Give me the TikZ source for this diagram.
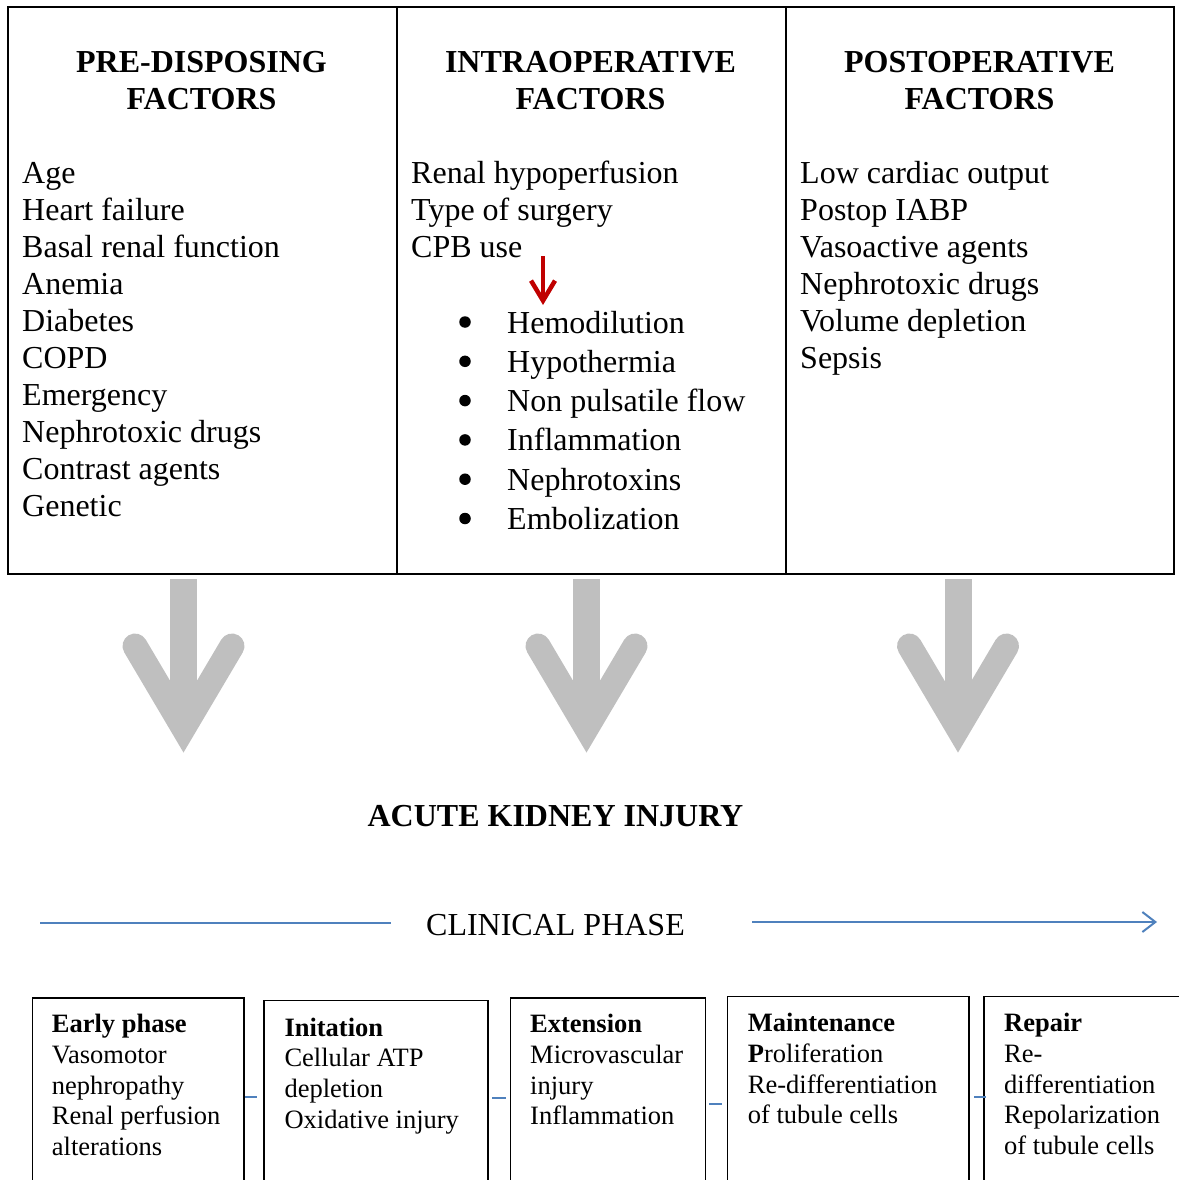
\documentclass[tikz,border=0pt]{standalone}
\usepackage{fontspec}
\setmainfont{Liberation Serif}
\usetikzlibrary{arrows.meta}
\definecolor{arrgray}{HTML}{BFBFBF}
\definecolor{lineblue}{HTML}{4F81BD}
\definecolor{darkred}{HTML}{C00000}
\begin{document}
\begin{tikzpicture}[x=1pt,y=-1pt,
  body/.style={font=\fontsize{32}{37}\selectfont, inner sep=0pt, anchor=base west},
  head/.style={font=\fontsize{32}{37}\selectfont\bfseries, inner sep=0pt, anchor=base},
  plainc/.style={font=\fontsize{32}{37}\selectfont, inner sep=0pt, anchor=base},
  small/.style={font=\fontsize{26.5}{30.7}\selectfont, inner sep=0pt, anchor=base west},
  smallb/.style={font=\fontsize{26.5}{30.7}\selectfont\bfseries, inner sep=0pt, anchor=base west},
  frame/.style={draw=black, line width=2pt},
  phasebox/.style={draw=black, line width=1.3pt, anchor=north west, inner sep=0pt, minimum height=230pt},
  bigarm/.style={draw=arrgray, line width=25pt, line cap=round, line join=miter},
  bigshaft/.style={draw=arrgray, line width=27pt},
  blueline/.style={draw=lineblue, line width=2pt},
  bluedash/.style={draw=lineblue, line width=2pt},
  bulletdot/.style={circle, fill=black, inner sep=0pt, minimum size=11.5pt},
]
\useasboundingbox (0,0) rectangle (1178,1180);

% ---------- top table ----------
\draw[frame] (7.5,7.5) rectangle (1173.5,573.5);
\draw[frame] (396.5,7.5) -- (396.5,573.5);
\draw[frame] (785.5,7.5) -- (785.5,573.5);

\node[head] (h1a) at (201.5,73) {PRE-DISPOSING};
\node[head] (h1b) at (201.5,110) {FACTORS};
\node[head] (h2a) at (590.5,73) {INTRAOPERATIVE};
\node[head] (h2b) at (590.5,110) {FACTORS};
\node[head] (h3a) at (979.5,73) {POSTOPERATIVE};
\node[head] (h3b) at (979.5,110) {FACTORS};

\foreach \t [count=\i] in {Age, Heart failure, Basal renal function, Anemia, Diabetes, COPD, Emergency, Nephrotoxic drugs, Contrast agents, Genetic}
  \node[body] (p\i) at (22,{183+37*(\i-1)}) {\t};

\foreach \t [count=\i] in {Renal hypoperfusion, Type of surgery, CPB use}
  \node[body] (m\i) at (411,{183+37*(\i-1)}) {\t};

\foreach \t [count=\i] in {Hemodilution, Hypothermia, Non pulsatile flow, Inflammation, Nephrotoxins, Embolization} {
  \node[body] (bl\i) at (507,{333+39.3*(\i-1)}) {\t};
  \node[bulletdot] (bd\i) at (465,{322+39.3*(\i-1)}) {};
}

\foreach \t [count=\i] in {Low cardiac output, Postop IABP, Vasoactive agents, Nephrotoxic drugs, Volume depletion, Sepsis}
  \node[body] (q\i) at (800,{183+37*(\i-1)}) {\t};

% red arrow
\coordinate (ra) at (543,256);
\coordinate (rb) at (543,305);
\draw[draw=darkred, line width=4.5pt, -{Straight Barb[length=20pt,width=24pt]}] (ra) -- (rb);

% ---------- big gray arrows ----------
\foreach \cx in {183.5,586.5,958} {
  \draw[bigshaft] (\cx,579) -- (\cx,722);
  \draw[bigarm] ({\cx-48.5},646) -- (\cx,728) -- ({\cx+48.5},646);
}

% ---------- AKI and clinical phase ----------
\node[head] (aki) at (555.5,826) {ACUTE KIDNEY INJURY};
\node[plainc] (clin) at (555.5,935) {CLINICAL PHASE};
\coordinate (la) at (40,923);
\coordinate (lb) at (391,923);
\coordinate (lc) at (752,922);
\coordinate (ld) at (1157,922);
\draw[blueline] (la) -- (lb);
\draw[blueline, -{Straight Barb[length=13pt,width=20pt]}] (lc) -- (ld);

% ---------- phase boxes ----------
\node[phasebox, minimum width=211.6pt] (b1) at (31.7,997.3) {};
\node[phasebox, minimum width=224pt] (b2) at (263.3,1000) {};
\node[phasebox, minimum width=195pt] (b3) at (510,997.3) {};
\node[phasebox, minimum width=241.6pt] (b4) at (726.7,996) {};
\node[phasebox, minimum width=260pt] (b5) at (983.3,995.5) {};

% dashes between boxes
\coordinate (d1s) at (245,1097);  \coordinate (d1e) at (257,1097);
\coordinate (d2s) at (492,1098);  \coordinate (d2e) at (506,1098);
\coordinate (d3s) at (709,1104);  \coordinate (d3e) at (722,1104);
\coordinate (d4s) at (974,1097);  \coordinate (d4e) at (986,1097);
\draw[bluedash] (d1s) -- (d1e);
\draw[bluedash] (d2s) -- (d2e);
\draw[bluedash] (d3s) -- (d3e);
\draw[bluedash] (d4s) -- (d4e);

% box texts
\node[smallb] (t1a) at (51.7,1032.7) {Early phase};
\node[small] (t1b) at (51.7,1063.4) {Vasomotor};
\node[small] (t1c) at (51.7,1094.1) {nephropathy};
\node[small] (t1d) at (51.7,1124.8) {Renal perfusion};
\node[small] (t1e) at (51.7,1155.5) {alterations};

\node[smallb] (t2a) at (284.3,1036) {Initation};
\node[small] (t2b) at (284.3,1066.7) {Cellular ATP};
\node[small] (t2c) at (284.3,1097.4) {depletion};
\node[small] (t2d) at (284.3,1128.1) {Oxidative injury};

\node[smallb] (t3a) at (530,1032.7) {Extension};
\node[small] (t3b) at (530,1063.4) {Microvascular};
\node[small] (t3c) at (530,1094.1) {injury};
\node[small] (t3d) at (530,1124.8) {Inflammation};

\node[smallb] (t4a) at (747.7,1031.7) {Maintenance};
\node[small] (t4b) at (747.7,1062.4) {\textbf{P}roliferation};
\node[small] (t4c) at (747.7,1093.1) {Re-differentiation};
\node[small] (t4d) at (747.7,1123.8) {of tubule cells};

\node[smallb] (t5a) at (1004,1031.7) {Repair};
\node[small] (t5b) at (1004,1062.4) {Re-};
\node[small] (t5c) at (1004,1093.1) {differentiation};
\node[small] (t5d) at (1004,1123.8) {Repolarization};
\node[small] (t5e) at (1004,1154.5) {of tubule cells};
\end{tikzpicture}
\end{document}
